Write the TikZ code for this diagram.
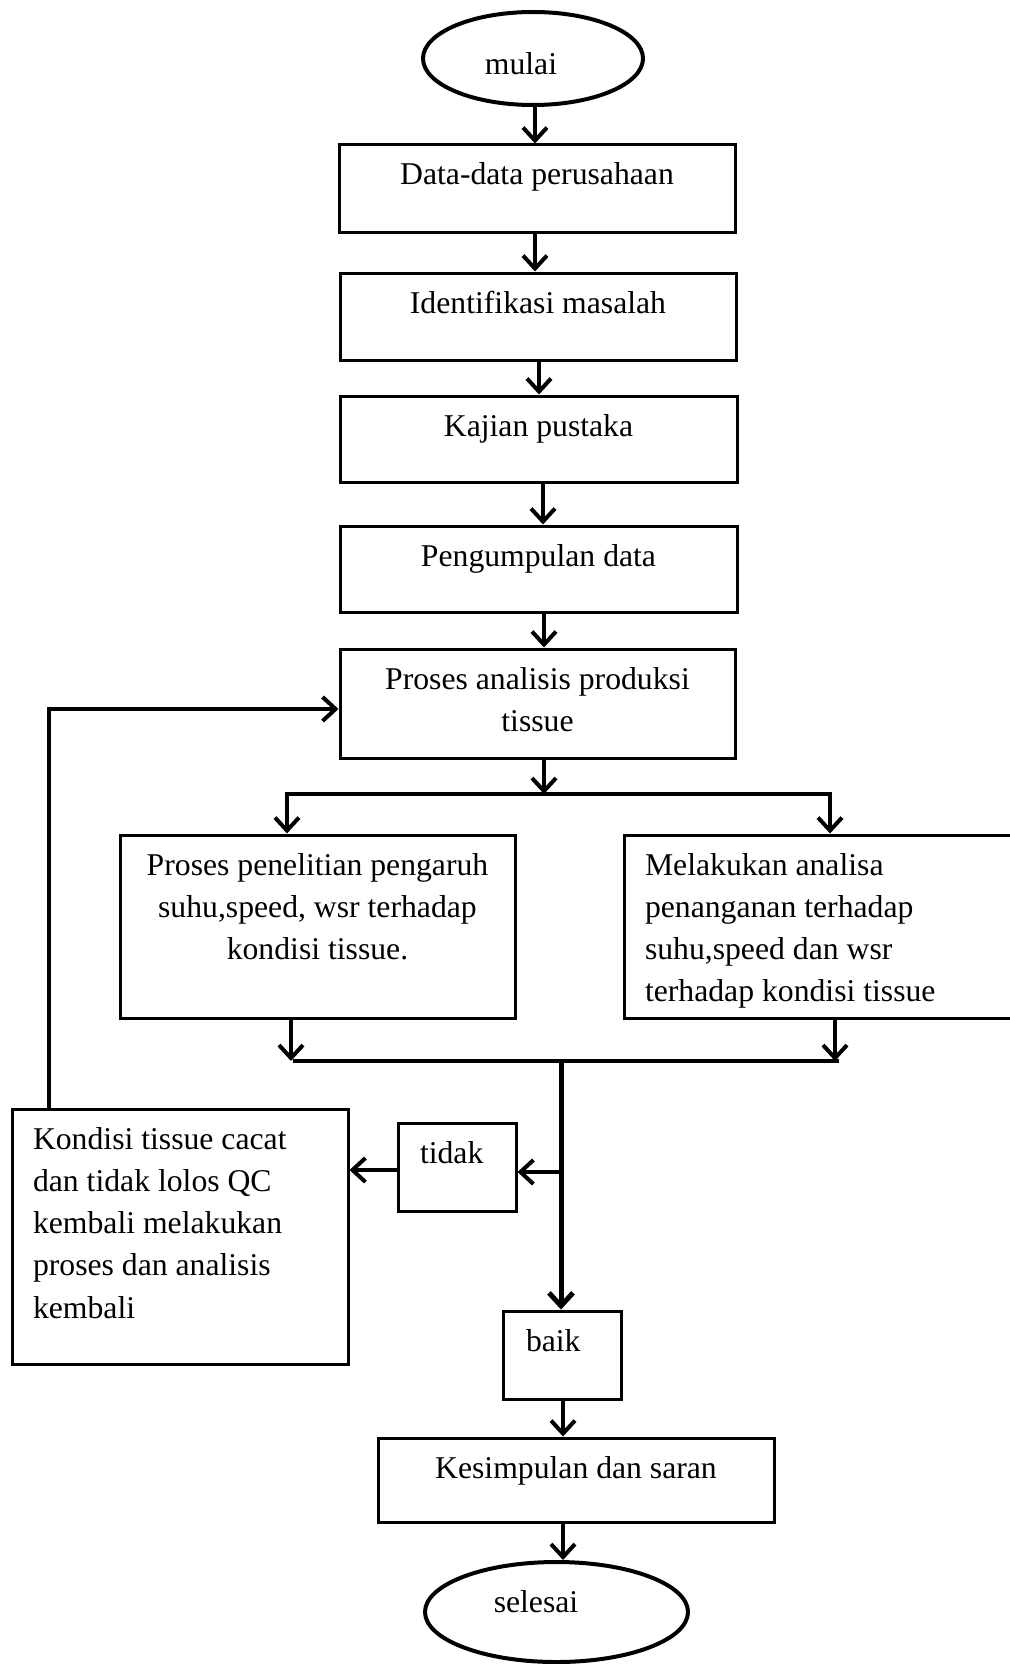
\documentclass[tikz,border=0pt]{standalone}
\usepackage{fontspec}
\setmainfont{Liberation Serif}
\usetikzlibrary{arrows.meta,shapes.geometric}
\newcommand{\tbox}[4]{\parbox[c][#2][t]{#1}{#3\rule{0pt}{40pt}#4}}
\begin{document}
\begin{tikzpicture}[x=1pt,y=-1pt,
  font=\fontsize{31.7}{42.3}\selectfont,
  box/.style={draw, line width=3pt, rectangle, inner sep=0pt},
  lbox/.style={box, inner xsep=21pt},
  oval/.style={draw, line width=4pt, ellipse, inner sep=0pt},
  conn/.style={line width=4pt, line cap=rect},
  arr/.style={line width=4pt, -{Straight Barb[length=13pt,width=24pt]}}]
\useasboundingbox (0,0) rectangle (1009,1664);
\fill[white] (0,0) rectangle (1009,1664);

% terminals
\node[oval, minimum width=220pt, minimum height=93pt, text height=33pt, text depth=0pt] (e1) at (533,58.5) {mulai\hspace*{24pt}};
\node[oval, minimum width=263pt, minimum height=100pt, text height=20pt, text depth=20pt] (e2) at (556.5,1612) {selesai\hspace*{41pt}};

% boxes
\node[box] (b1) at (537,188.5) {\tbox{396pt}{87pt}{\centering}{Data-data perusahaan}};
\node[box] (b2) at (538,316.5) {\tbox{396pt}{87pt}{\centering}{Identifikasi masalah}};
\node[box] (b3) at (538.5,439) {\tbox{397pt}{86pt}{\centering}{Kajian pustaka}};
\node[box] (b4) at (538.5,569) {\tbox{397pt}{86pt}{\centering}{Pengumpulan data}};
\node[box] (b5) at (537.5,703.5) {\tbox{395pt}{109pt}{\centering}{Proses analisis produksi\\tissue}};
\node[box] (b6) at (317.5,926.5) {\tbox{395pt}{183pt}{\centering}{Proses penelitian pengaruh\\suhu,speed, wsr terhadap\\kondisi tissue.}};
\node[lbox] (b7) at (819.5,926.5) {\tbox{349pt}{183pt}{\raggedright}{Melakukan analisa\\penanganan terhadap\\suhu,speed dan wsr\\terhadap kondisi tissue}};
\node[lbox] (b8) at (180,1236.5) {\tbox{294pt}{255pt}{\raggedright}{Kondisi tissue cacat\\dan tidak lolos QC\\kembali melakukan\\proses dan analisis\\kembali}};
\node[lbox, inner xsep=22pt] (b9) at (457,1167) {\tbox{74pt}{88pt}{\raggedright}{tidak}};
\node[lbox, inner xsep=23pt] (b10) at (562,1355) {\tbox{72pt}{88pt}{\raggedright}{baik}};
\node[box] (b11) at (576,1480) {\tbox{396pt}{84pt}{\centering}{Kesimpulan dan saran}};

% junction points
\coordinate (sp) at (544,794);
\coordinate (spL) at (287,794);
\coordinate (spR) at (830,794);
\coordinate (mL) at (291,1061);
\coordinate (mR) at (835,1061);
\coordinate (mC) at (561,1061);
\coordinate (br) at (561,1172);

% connectors
\draw[arr] ([xshift=2pt]e1.south) -- ([xshift=2pt]e1.south |- b1.north);
\draw[arr] ([xshift=-2pt]b1.south) -- ([xshift=-2pt]b1.south |- b2.north);
\draw[arr] ([xshift=1pt]b2.south) -- ([xshift=1pt]b2.south |- b3.north);
\draw[arr] ([xshift=4.5pt]b3.south) -- ([xshift=4.5pt]b3.south |- b4.north);
\draw[arr] (sp |- b4.south) -- (sp |- b5.north);
\draw[arr] (sp |- b5.south) -- (sp);
\draw[conn] (spL) -- (spR);
\draw[arr] (spL) -- (spL |- b6.north);
\draw[arr] (spR) -- (spR |- b7.north);
\draw[arr] (mL |- b6.south) -- (mL);
\draw[arr] (mR |- b7.south) -- (mR);
\draw[conn] ([xshift=4pt]mL) -- ([xshift=2pt]mR);
\draw[arr, line width=5pt] (mC) -- (mC |- b10.north);
\draw[arr] (br) -- (br -| b9.east);
\draw[arr] ([yshift=-3pt]b9.west) -- ([yshift=-3pt]b9.west -| b8.east);
\draw[arr, line join=miter] ([xshift=38pt]b8.north west) |- ([yshift=-5.5pt]b5.west);
\draw[arr] ([xshift=1pt]b10.south) -- ([xshift=1pt]b10.south |- b11.north);
\draw[arr] ([xshift=-13pt]b11.south) -- ([xshift=-13pt]b11.south |- e2.north);
\end{tikzpicture}
\end{document}
